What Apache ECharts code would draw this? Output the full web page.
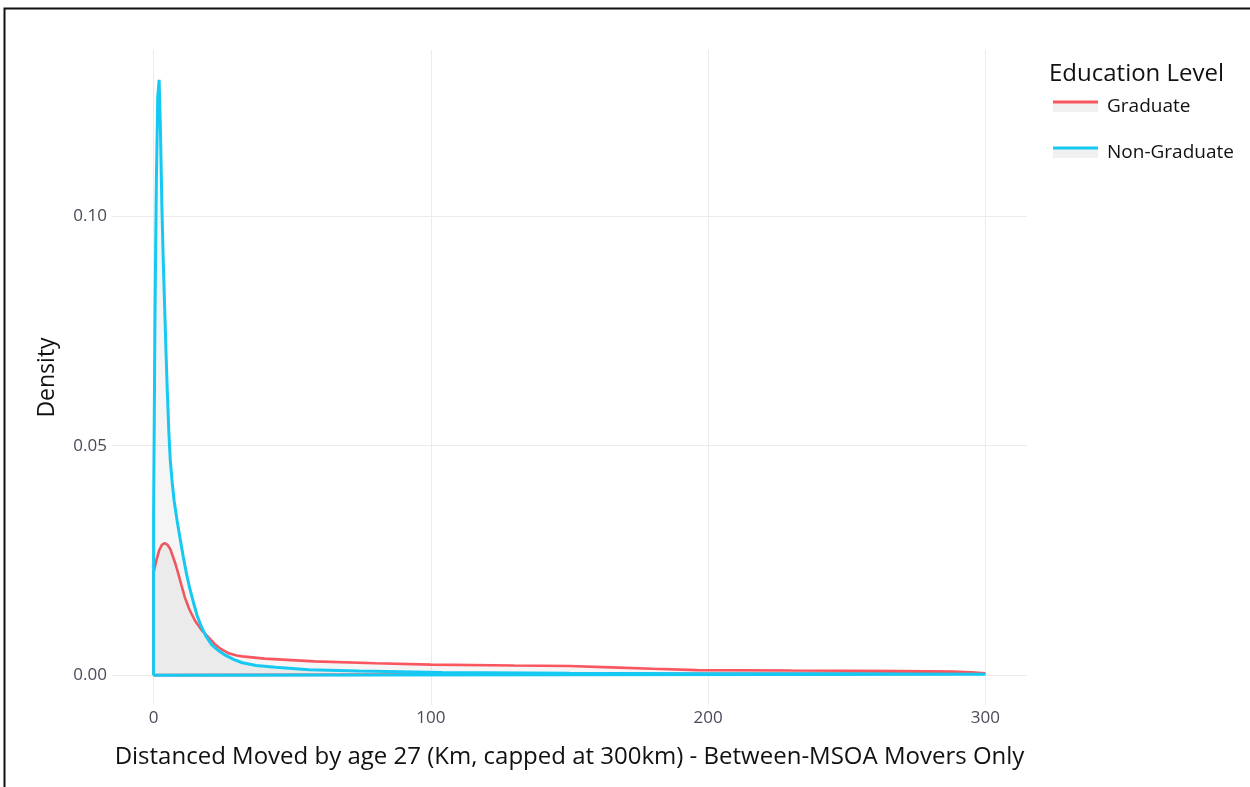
<!DOCTYPE html>
<html>
<head>
<meta charset="utf-8">
<title>Distance moved by age 27</title>
<script src="https://cdn.jsdelivr.net/npm/echarts@6/dist/echarts.min.js"></script>
<style>
  html, body { margin: 0; padding: 0; background: #fff; }
  #chart { width: 1250px; height: 787px; }
</style>
</head>
<body>
<div id="chart"></div>
<script>
// Kernel density estimates of distance moved (km, capped at 300)
const graduateX = [0, 1, 2, 3, 4, 5, 6, 7, 8, 9, 10, 11.3, 13, 15, 17.5, 20, 22, 24.5, 27, 30, 32, 40, 58, 80, 100, 130, 150, 165, 180, 196, 230, 270, 288, 295, 300];
const graduateY = [0.0223, 0.0250, 0.0272, 0.0284, 0.0288, 0.0284, 0.0275, 0.0258, 0.0240, 0.0219, 0.0197, 0.0169, 0.0142, 0.0118, 0.0097, 0.0081, 0.0068, 0.0056, 0.0048, 0.0043, 0.0041, 0.0036, 0.0030, 0.0026, 0.0023, 0.0021, 0.0020, 0.0017, 0.0014, 0.0011, 0.0010, 0.0009, 0.0008, 0.0006, 0.0004];

const nonGraduateX = [0, 0.5, 1, 1.5, 2, 2.5, 3, 3.5, 4, 4.5, 5, 5.5, 6, 6.7, 7.4, 8.5, 9.5, 10.7, 11.9, 13, 14.3, 15.7, 17.2, 19, 21, 23.5, 26, 29, 32, 37, 44, 56, 74, 104, 150, 200, 250, 300];
const nonGraduateY = [0.035, 0.078, 0.108, 0.126, 0.1297, 0.118, 0.102, 0.090, 0.080, 0.070, 0.061, 0.053, 0.047, 0.042, 0.038, 0.0336, 0.0300, 0.0258, 0.0220, 0.0190, 0.0160, 0.0130, 0.0106, 0.0084, 0.0066, 0.0053, 0.0043, 0.0034, 0.0027, 0.0021, 0.0017, 0.0012, 0.0009, 0.0006, 0.0004, 0.0003, 0.0003, 0.0002];

const xTicks = [0, 100, 200, 300];
const yTicks = [0, 0.05, 0.10];

const groups = ['Graduate', 'Non-Graduate'];
const colors = ['#F9565F', '#15C9F2'];

// closed outline: up the left edge, along the curve, down the right edge, back along the baseline
function outline(xs, ys) {
  const pts = [[xs[0], 0]];
  for (let i = 0; i < xs.length; i++) pts.push([xs[i], ys[i]]);
  pts.push([xs[xs.length - 1], 0]);
  pts.push([xs[0], 0]);
  return pts;
}

const FONT = '"Open Sans", "Noto Sans", sans-serif';
const chart = echarts.init(document.getElementById('chart'), null, { renderer: 'canvas' });

const gridLeft = 112, gridTop = 50, gridRight = 223, gridBottom = 82;

const legendX = 1053, legendY0 = 102, legendStep = 46;
const legendGraphics = [
  {
    type: 'text', left: 1049, top: 62,
    style: { text: 'Education Level', font: '24px ' + FONT, fill: '#111' }
  }
];
groups.forEach((g, i) => {
  const y = legendY0 + i * legendStep;
  legendGraphics.push(
    { type: 'rect', shape: { x: legendX, y: y, width: 45, height: 10 }, style: { fill: '#f0f0f0' } },
    { type: 'line', shape: { x1: legendX, y1: y, x2: legendX + 45, y2: y }, style: { stroke: colors[i], lineWidth: 3 } },
    { type: 'text', x: 1107, y: y + 5, style: { text: g, font: '19px ' + FONT, fill: '#111', verticalAlign: 'middle' } }
  );
});

const option = {
  animation: false,
  backgroundColor: '#ffffff',
  grid: { left: gridLeft, right: gridRight, top: gridTop, bottom: gridBottom, containLabel: false },
  xAxis: {
    type: 'value',
    min: -15,
    max: 315,
    name: 'Distanced Moved by age 27 (Km, capped at 300km) - Between-MSOA Movers Only',
    nameLocation: 'middle',
    nameGap: 40,
    nameTextStyle: { fontFamily: FONT, fontSize: 24, color: '#111' },
    axisLine: { show: false },
    axisTick: { show: false, customValues: xTicks },
    axisLabel: { customValues: xTicks, fontFamily: FONT, fontSize: 17, color: '#4a4a5a', margin: 5 },
    splitLine: { show: true, lineStyle: { color: '#ebebeb', width: 1 } }
  },
  yAxis: {
    type: 'value',
    min: -0.0065,
    max: 0.1362,
    name: 'Density',
    nameLocation: 'middle',
    nameGap: 53,
    nameRotate: 90,
    nameTextStyle: { fontFamily: FONT, fontSize: 23, color: '#111' },
    axisLine: { show: false },
    axisTick: { show: false, customValues: yTicks },
    axisLabel: {
      customValues: yTicks, fontFamily: FONT, fontSize: 17, color: '#4a4a5a', margin: 5,
      formatter: v => v.toFixed(2)
    },
    splitLine: { show: true, lineStyle: { color: '#ebebeb', width: 1 } }
  },
  series: [
    {
      name: groups[0], type: 'line', symbol: 'none', smooth: false,
      data: outline(graduateX, graduateY),
      lineStyle: { color: colors[0], width: 2.6 },
      areaStyle: { color: 'rgba(120,120,120,0.1)', origin: 0 },
      z: 2
    },
    {
      name: groups[1], type: 'line', symbol: 'none', smooth: false,
      data: outline(nonGraduateX, nonGraduateY),
      lineStyle: { color: colors[1], width: 3 },
      areaStyle: { color: 'rgba(120,120,120,0.1)', origin: 0 },
      z: 3
    }
  ],
  graphic: [
    { type: 'rect', shape: { x: 4.5, y: 8.5, width: 1400, height: 1000 }, style: { fill: 'none', stroke: '#111', lineWidth: 2 }, z: 100 }
  ].concat(legendGraphics)
};

chart.setOption(option);
</script>
</body>
</html>
